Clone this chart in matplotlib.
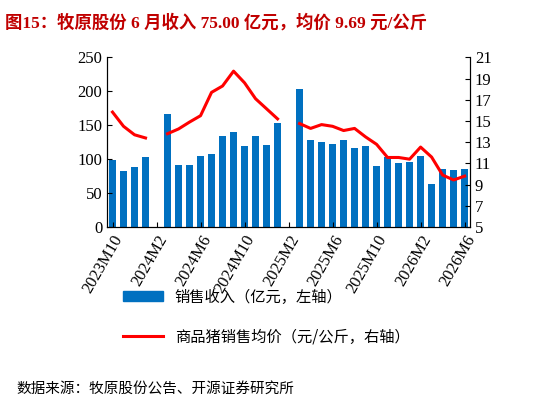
import numpy as np
import matplotlib
matplotlib.use('Agg')
import matplotlib.pyplot as plt
from matplotlib.patches import Patch
from matplotlib.lines import Line2D

plt.rcParams['font.family'] = ['Liberation Serif', 'Noto Sans CJK SC']

# 2023M10 .. 2026M6, 33 monthly slots
n_slots = 33
revenue = [99, 83, 88, 103, np.nan, 166, 91, 92, 104, 107, 134, 140, 119, 134, 121, 153,
           np.nan, 204, 128, 126, 122, 128, 117, 119, 90, 103, 94, 96, 105, 63, 86, 84, 86]
price = [15.84, 14.5, 13.7, 13.4, np.nan, 13.8, 14.25, 14.9, 15.5, 17.7, 18.3, 19.7, 18.6, 17.1,
         16.15, 15.2, np.nan, 14.76, 14.3, 14.66, 14.5, 14.1, 14.3, 13.5, 12.8, 11.56, 11.56,
         11.4, 12.54, 11.6, 9.9, 9.44, 9.8]
tick_labels = ['2023M10', '2024M2', '2024M6', '2024M10', '2025M2', '2025M6',
               '2025M10', '2026M2', '2026M6']

x = np.arange(n_slots)
fig = plt.figure(figsize=(5.46, 4.04), dpi=100)
ax = fig.add_axes([0.196, 0.438, 0.665, 0.42])
ax.bar(x, revenue, width=0.65, color='#0070C0')
ax.set_ylim(0, 250)
ax.set_yticks(range(0, 251, 50))
ax.set_xlim(-0.5, n_slots - 0.5)
ax.set_xticks(np.arange(0, n_slots, 4))
ax.set_xticklabels(tick_labels, rotation=60, ha='right', rotation_mode='anchor', fontsize=13)
ax.tick_params(direction='in', labelsize=12)
ax.spines['top'].set_visible(False)

ax2 = ax.twinx()
ax2.plot(x, price, color='#FF0000', lw=2.2)
ax2.set_ylim(5, 21)
ax2.set_yticks(range(5, 22, 2))
ax2.tick_params(direction='in', labelsize=12)
ax2.spines['top'].set_visible(False)

fig.text(0.01, 0.965, '图15：牧原股份 6 月收入 75.00 亿元，均价 9.69 元/公斤',
         fontsize=12.5, fontweight='bold', color='#C00000', va='top')

handles = [Patch(color='#0070C0'), Line2D([], [], color='#FF0000', lw=2.2)]
fig.legend(handles, ['销售收入（亿元，左轴）', '商品猪销售均价（元/公斤，右轴）'],
           loc='upper left', bbox_to_anchor=(0.2, 0.32), frameon=False,
           handlelength=2.6, labelspacing=1.5,
           prop={'family': ['Noto Sans CJK SC'], 'size': 11})
fig.text(0.03, 0.025, '数据来源：牧原股份公告、开源证券研究所', fontsize=10.5,
         family=['Noto Sans CJK SC'])

plt.savefig('out.png', dpi=100)
